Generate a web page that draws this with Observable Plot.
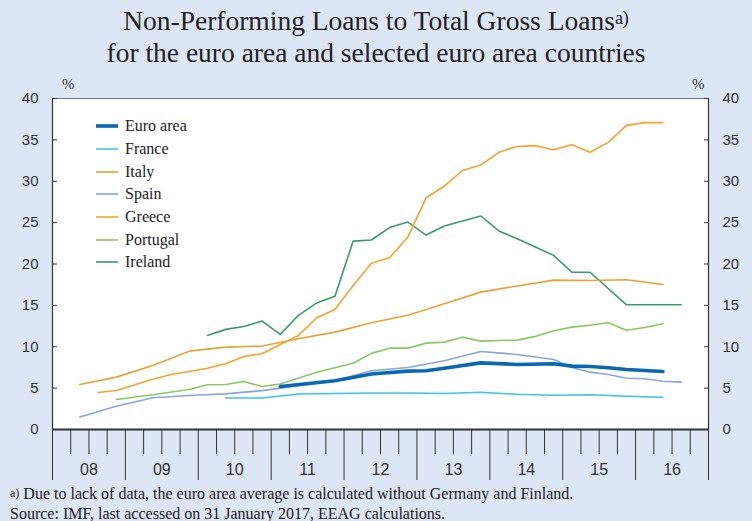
<!DOCTYPE html>
<html><head><meta charset="utf-8">
<script src="https://cdn.jsdelivr.net/npm/d3@7"></script>
<script src="https://cdn.jsdelivr.net/npm/@observablehq/plot@0.6"></script>
<style>
html,body{margin:0;padding:0;background:#dde6f4;}
#wrap{position:relative;width:752px;height:521px;overflow:hidden;background:#dde6f4;font-family:"Liberation Serif","Times New Roman",serif;color:#222;}
#title{position:absolute;left:0;top:5px;width:752px;text-align:center;font-size:27.5px;line-height:32px;}
#title sup{font-size:18px;vertical-align:top;position:relative;top:-3px;}
#chart{position:absolute;left:0;top:70px;}
.pct{position:absolute;top:76px;font-size:15px;color:#333;}
#legend{position:absolute;left:96px;top:115px;font-size:16px;}
.lrow{height:22.7px;display:flex;align-items:center;}
.lrow svg{margin-right:6px;}
#notes{position:absolute;left:10px;top:484px;font-size:16px;line-height:20px;color:#222;}
#notes sup{font-size:12px;vertical-align:top;position:relative;top:-1px;}
</style>
</head><body>
<div id="wrap">
  <div id="title">Non-Performing Loans to Total Gross Loans<sup>a)</sup><br>for the euro area and selected euro area countries</div>
  <div class="pct" style="left:62px">%</div>
  <div class="pct" style="left:692px">%</div>
  <div id="chart"></div>
  <div id="legend"></div>
  <div id="notes"><sup>a)</sup> Due to lack of data, the euro area average is calculated without Germany and Finland.<br>Source: IMF, last accessed on 31 January 2017, EEAG calculations.</div>
</div>
<script>
// ---- data (quarter labels and % values) ----
const euroQ = ["2011Q1","2011Q4","2012Q2","2012Q4","2013Q1","2013Q2","2013Q4","2014Q2","2014Q4","2015Q1","2015Q2","2015Q3","2015Q4","2016Q1","2016Q2"];
const euroV = [5.2,5.9,6.7,7.05,7.1,7.4,8.05,7.86,7.94,7.66,7.62,7.46,7.25,7.13,7.0];

const franceQ = ["2010Q2","2010Q4","2011Q2","2011Q4","2012Q2","2012Q4","2013Q2","2013Q4","2014Q2","2014Q4","2015Q2","2015Q4","2016Q2"];
const franceV = [3.8,3.8,4.3,4.35,4.4,4.4,4.35,4.5,4.25,4.15,4.2,4.03,3.9];

const italyQ = ["2008Q2","2008Q4","2009Q2","2009Q4","2010Q2","2010Q4","2011Q2","2011Q4","2012Q2","2012Q4","2013Q2","2013Q4","2014Q2","2014Q4","2015Q2","2015Q4","2016Q2"];
const italyV = [5.44,6.33,7.74,9.47,9.95,10.08,10.96,11.77,12.9,13.8,15.2,16.6,17.35,18.05,18.0,18.1,17.53];

const spainQ = ["2008Q2","2008Q4","2009Q2","2009Q4","2010Q2","2010Q4","2011Q2","2011Q4","2012Q2","2012Q4","2013Q2","2013Q4","2014Q2","2014Q4","2015Q1","2015Q2","2015Q3","2015Q4","2016Q1","2016Q2","2016Q3"];
const spainV = [1.5,2.82,3.83,4.1,4.3,4.7,5.3,5.9,7.1,7.5,8.3,9.43,9.07,8.46,7.5,6.93,6.65,6.2,6.13,5.84,5.72];

const greeceQ = ["2008Q3","2008Q4","2009Q2","2009Q3","2009Q4","2010Q1","2010Q2","2010Q3","2010Q4","2011Q1","2011Q2","2011Q3","2011Q4","2012Q1","2012Q2","2012Q3","2012Q4","2013Q1","2013Q2","2013Q3","2013Q4","2014Q1","2014Q2","2014Q3","2014Q4","2015Q1","2015Q2","2015Q3","2015Q4","2016Q1","2016Q2"];
const greeceV = [4.47,4.72,6.08,6.65,7.0,7.4,7.94,8.83,9.15,10.28,11.37,13.5,14.5,17.4,20.1,20.75,23.25,28.0,29.4,31.3,31.96,33.5,34.2,34.3,33.8,34.4,33.5,34.7,36.75,37.08,37.08];

const portugalQ = ["2008Q4","2009Q2","2009Q4","2010Q1","2010Q2","2010Q3","2010Q4","2011Q1","2011Q3","2012Q1","2012Q2","2012Q3","2012Q4","2013Q1","2013Q2","2013Q3","2013Q4","2014Q1","2014Q2","2014Q3","2014Q4","2015Q1","2015Q2","2015Q3","2015Q4","2016Q1","2016Q2"];
const portugalV = [3.63,4.2,4.84,5.4,5.44,5.8,5.2,5.5,6.93,8.0,9.2,9.83,9.83,10.44,10.56,11.16,10.68,10.75,10.8,11.25,11.93,12.37,12.6,12.9,12.0,12.33,12.78];

const irelandQ = ["2010Q1","2010Q2","2010Q3","2010Q4","2011Q1","2011Q2","2011Q3","2011Q4","2012Q1","2012Q2","2012Q3","2012Q4","2013Q1","2013Q2","2013Q3","2013Q4","2014Q1","2014Q2","2014Q3","2014Q4","2015Q1","2015Q2","2015Q4","2016Q1","2016Q2","2016Q3"];
const irelandV = [11.37,12.1,12.45,13.1,11.49,13.8,15.3,16.1,22.77,22.9,24.4,25.07,23.5,24.6,25.2,25.8,24.0,23.05,22.05,21.04,19.0,19.0,15.07,15.07,15.07,15.07];

const years = [2008,2009,2010,2011,2012,2013,2014,2015,2016];
const yTicks = [0,5,10,15,20,25,30,35,40];

// ---- build ----
const qToX = s => +s.slice(0,4) + (+s.slice(5) - 0.5) / 4;
const series = [
  {name:"Euro area", q:euroQ, v:euroV, color:"#0a68b2", w:3.6},
  {name:"France", q:franceQ, v:franceV, color:"#3cc0ef", w:1.5},
  {name:"Italy", q:italyQ, v:italyV, color:"#e3a536", w:1.6},
  {name:"Spain", q:spainQ, v:spainV, color:"#87a6da", w:1.6},
  {name:"Greece", q:greeceQ, v:greeceV, color:"#f8a22a", w:1.6},
  {name:"Portugal", q:portugalQ, v:portugalV, color:"#8cc763", w:1.6},
  {name:"Ireland", q:irelandQ, v:irelandV, color:"#399a6b", w:1.6}
];
const toRows = s => s.q.map((q,i) => ({x:qToX(q), y:s.v[i]}));
const drawOrder = ["Ireland","Portugal","Greece","Italy","France","Spain","Euro area"];

const yearEdges = years.concat([years[years.length-1]+1]);
const quarterTicks = years.flatMap(y => [y+0.25, y+0.5, y+0.75]);
const yearMids = years.map(y => y + 0.5);

const chart = Plot.plot({
  width: 752, height: 415,
  marginTop: 28, marginBottom: 56, marginLeft: 52, marginRight: 44,
  style: {background:"transparent", fontFamily:"'Liberation Sans', Arial, sans-serif", color:"#333"},
  x: {domain:[2008,2017], label:null},
  y: {domain:[0,40], label:null},
  marks: [
    Plot.frame({fill:"white", stroke:null}),
    ...drawOrder.map(n => {
      const s = series.find(d => d.name === n);
      return Plot.line(toRows(s), {x:"x", y:"y", stroke:s.color, strokeWidth:s.w, strokeLinejoin:"round"});
    }),
    Plot.frame({stroke:"#777", strokeWidth:1}),
    Plot.axisY({anchor:"left", ticks:yTicks, tickSize:0, tickPadding:14, fontSize:15, label:null}),
    Plot.axisY({anchor:"right", ticks:yTicks, tickSize:0, tickPadding:14, fontSize:15, label:null}),
    Plot.axisY({anchor:"left", ticks:yTicks, tickSize:-5, tickFormat:()=>"", label:null}),
    Plot.axisY({anchor:"right", ticks:yTicks, tickSize:-5, tickFormat:()=>"", label:null}),
    Plot.axisX({ticks:quarterTicks, tickSize:25, tickFormat:()=>"", label:null}),
    Plot.axisX({ticks:yearEdges, tickSize:51, tickFormat:()=>"", label:null}),
    Plot.axisX({ticks:yearMids, tickSize:0, tickPadding:34, fontSize:16, tickFormat:d => String(Math.floor(d)%100).padStart(2,"0"), label:null}),
    Plot.ruleX([2008, 2017], {stroke:"#333", strokeWidth:1.2}),
    Plot.ruleY([0], {stroke:"#333", strokeWidth:2})
  ]
});
document.getElementById("chart").appendChild(chart);

// legend
const leg = d3.select("#legend");
series.forEach(s => {
  const row = leg.append("div").attr("class","lrow");
  const sv = row.append("svg").attr("width",23).attr("height",8);
  sv.append("line").attr("x1",0).attr("x2",22).attr("y1",4).attr("y2",4)
    .attr("stroke",s.color).attr("stroke-width",s.w);
  row.append("span").text(s.name);
});
</script>
</body></html>
